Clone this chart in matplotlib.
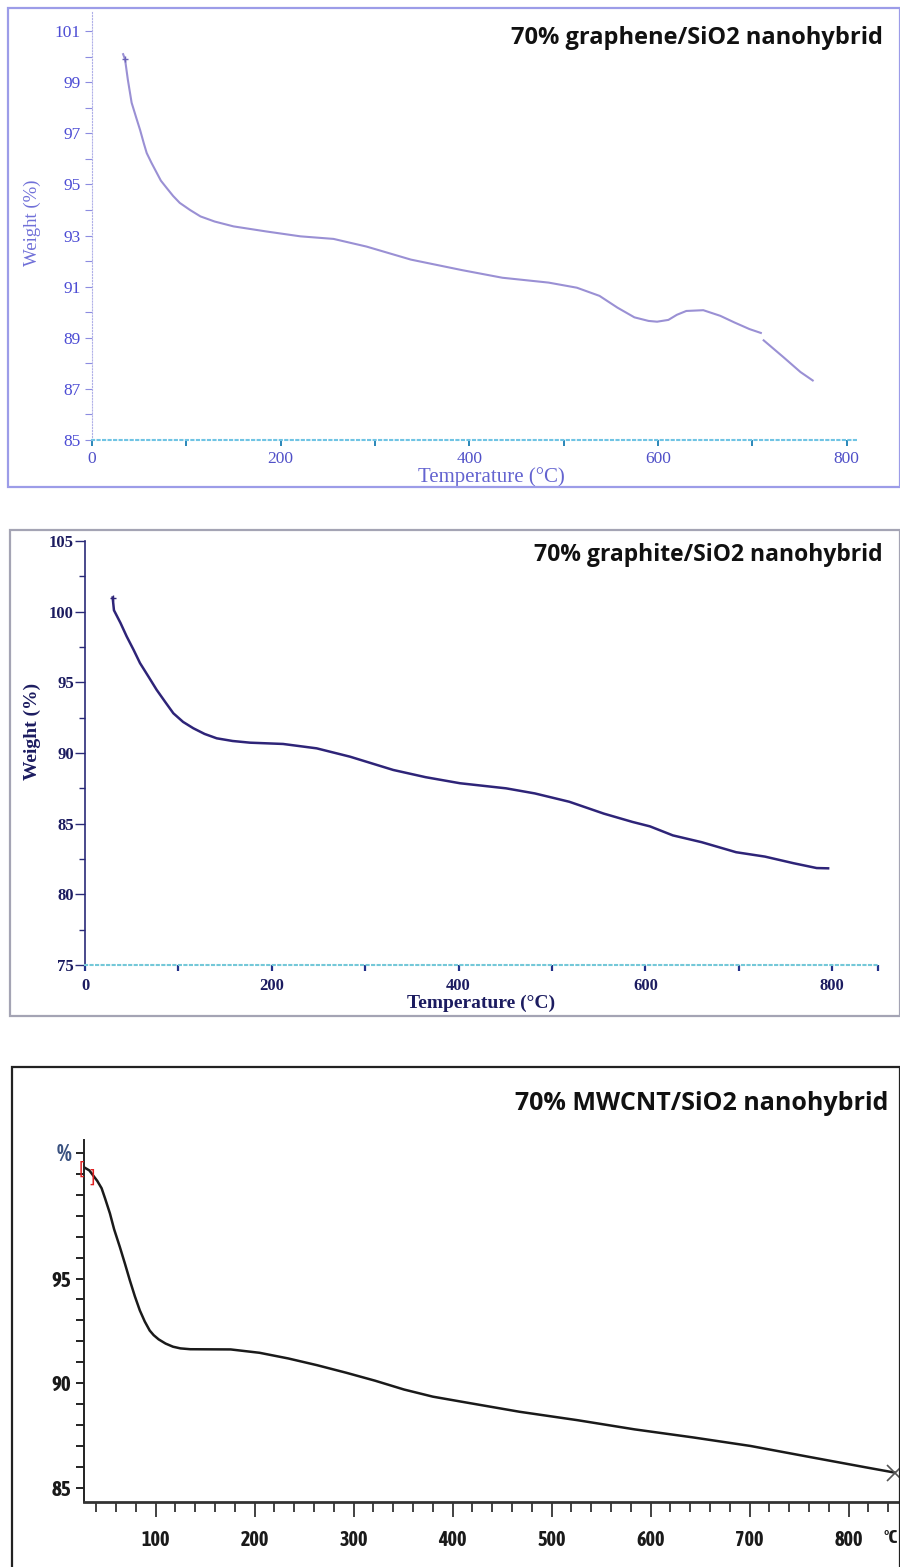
import numpy as np
import matplotlib
matplotlib.use('Agg')
import matplotlib.pyplot as plt
from matplotlib import font_manager
from matplotlib.patches import Rectangle
from matplotlib.ticker import MultipleLocator, FixedLocator

# panel 1 - graphene (curve has a small break near 710 C)
temp_gr_a = [33, 35, 38, 42, 47, 51, 55, 58, 63, 67, 73, 79, 86, 93, 104, 115, 130, 150,
             185, 221, 256, 291, 338, 392, 435, 484, 514, 538, 557, 575, 590, 599, 611,
             620, 630, 648, 666, 681, 697, 709]
wt_gr_a   = [100.1, 99.9, 99.1, 98.2, 97.6, 97.13, 96.6, 96.23, 95.85, 95.57, 95.15, 94.87,
             94.55, 94.28, 94.0, 93.75, 93.55, 93.36, 93.16, 92.97, 92.87, 92.57, 92.06,
             91.65, 91.35, 91.16, 90.96, 90.64, 90.18, 89.8, 89.66, 89.63, 89.7, 89.9,
             90.05, 90.08, 89.86, 89.6, 89.34, 89.19]
temp_gr_b = [712, 733, 751, 764]
wt_gr_b   = [88.9, 88.24, 87.66, 87.33]

# panel 2 - graphite
temp_gt = [29.6, 31, 38, 44.6, 52, 58.9, 68, 76.7, 86, 94.6, 105, 116, 128, 141, 158, 176.7,
           212, 248, 283.7, 330, 364.6, 401.5, 450.8, 481.6, 518.5, 555.5, 586.3, 604.8,
           629.4, 660.2, 697.1, 727.9, 758.7, 783.3, 795.6]
wt_gt   = [101.0, 100.1, 99.2, 98.25, 97.3, 96.36, 95.4, 94.47, 93.6, 92.81, 92.2, 91.75,
           91.35, 91.04, 90.85, 90.73, 90.64, 90.33, 89.74, 88.8, 88.29, 87.86, 87.5, 87.14,
           86.55, 85.71, 85.12, 84.81, 84.17, 83.69, 82.98, 82.67, 82.2, 81.86, 81.84]

# panel 3 - MWCNT
temp_cn = [27.6, 33, 37, 41, 45.4, 49, 53.8, 58, 63.9, 69, 74, 79, 84, 89, 94, 98, 103, 110,
           117.5, 125, 135, 175.8, 205, 234, 263, 292.5, 321.7, 350.9, 380, 409, 467.6, 526,
           584, 642.6, 701, 759, 817.6, 846.8]
wt_cn   = [100.3, 100.15, 99.9, 99.65, 99.3, 98.8, 98.1, 97.35, 96.49, 95.7, 94.9, 94.15,
           93.48, 92.95, 92.52, 92.3, 92.1, 91.9, 91.75, 91.67, 91.63, 91.62, 91.46, 91.19,
           90.87, 90.51, 90.13, 89.71, 89.37, 89.13, 88.65, 88.25, 87.81, 87.43, 87.02,
           86.51, 86.0, 85.75]

titles = ['70% graphene/SiO2 nanohybrid', '70% graphite/SiO2 nanohybrid',
          '70% MWCNT/SiO2 nanohybrid']

# look for a bold condensed sans for the third panel's tick labels
def is_bold(w):
    if isinstance(w, str):
        return w.lower() in ('bold', 'semibold', 'demibold', 'heavy', 'black', 'extra bold')
    return w >= 600

narrow_name = None
for f in font_manager.fontManager.ttflist:
    if 'Narrow' in f.name or 'Condensed' in f.name:
        if is_bold(f.weight):
            narrow_name = f.name
            break
        if narrow_name is None:
            narrow_name = f.name
narrow = [narrow_name, 'Roboto'] if narrow_name else ['Roboto', 'DejaVu Sans']

W, H = 900, 1567
fig = plt.figure(figsize=(W / 100, H / 100), dpi=100)
fig.patch.set_facecolor('white')

def fx(px):
    return px / W

def fy(py):
    return 1 - py / H

# frames round each panel
fig.add_artist(Rectangle((fx(8), fy(487)), fx(900 - 8), (487 - 8) / H,
                         transform=fig.transFigure, fill=False, ec='#9c9ce8', lw=1.6))
fig.add_artist(Rectangle((fx(10), fy(1016)), fx(900 - 10), (1016 - 530) / H,
                         transform=fig.transFigure, fill=False, ec='#a4a4b4', lw=1.6))
fig.add_artist(Rectangle((fx(12), fy(1580)), fx(900 - 12), (1580 - 1067) / H,
                         transform=fig.transFigure, fill=False, ec='#222222', lw=1.6))

serif = ['Liberation Serif', 'DejaVu Serif']
title_font = ['Open Sans', 'DejaVu Sans']

# ---------- panel 1
ax1 = fig.add_axes([fx(92), fy(440), fx(858 - 92), (440 - 12) / H])
ax1.plot(temp_gr_a, wt_gr_a, color='#9a90d4', lw=1.5)
ax1.plot(temp_gr_b, wt_gr_b, color='#9a90d4', lw=1.5)
ax1.plot(temp_gr_a[1], wt_gr_a[1], marker='+', color='#6c64b8', ms=5)
ax1.set_xlim(0, 812)
ax1.set_ylim(85, 101.75)
ax1.set_yticks(np.arange(85, 102, 2))
ax1.yaxis.set_minor_locator(FixedLocator(np.arange(86, 101, 2)))
ax1.set_xticks([0, 200, 400, 600, 800])
ax1.xaxis.set_minor_locator(FixedLocator([100, 300, 500, 700]))
for s in ['top', 'right']:
    ax1.spines[s].set_visible(False)
ax1.spines['left'].set_color('#b0b0e8')
ax1.spines['left'].set_linestyle(':')
ax1.spines['bottom'].set_color('#70c4e4')
ax1.spines['bottom'].set_linestyle(':')
ax1.spines['bottom'].set_linewidth(1.5)
ax1.tick_params(axis='y', which='both', length=5, color='#8c8ce0', width=0.8, pad=3,
                labelcolor='#4c4cd4', labelsize=12.5)
ax1.tick_params(axis='x', which='both', length=4, color='#2a86b8', width=1.4, pad=4,
                labelcolor='#5050c8', labelsize=12.5)
for lab in ax1.get_xticklabels() + ax1.get_yticklabels():
    lab.set_family(serif)
ax1.set_xlabel('Temperature (°C)', family=serif, fontsize=15, color='#6464d0')
ax1.xaxis.set_label_coords(0.521, -0.064)
ax1.set_ylabel('Weight (%)', family=serif, fontsize=13.5, color='#7070d8')
ax1.yaxis.set_label_coords(-0.066, 0.507)
fig.text(fx(883), fy(38), titles[0], family=title_font, weight='bold', fontsize=17,
         ha='right', va='center', color='#111111')

# ---------- panel 2
ax2 = fig.add_axes([fx(85), fy(965), fx(878 - 85), (965 - 541) / H])
ax2.plot(temp_gt, wt_gt, color='#2e2478', lw=1.8)
ax2.plot(temp_gt[0], wt_gt[0], marker='+', color='#2e2478', ms=4)
ax2.set_xlim(0, 849)
ax2.set_ylim(75, 105)
ax2.set_yticks(np.arange(75, 106, 5))
ax2.yaxis.set_minor_locator(FixedLocator(np.arange(77.5, 105, 5)))
ax2.set_xticks([0, 200, 400, 600, 800])
ax2.xaxis.set_minor_locator(FixedLocator([100, 300, 500, 700, 849]))
for s in ['top', 'right']:
    ax2.spines[s].set_visible(False)
ax2.spines['left'].set_color('#2a2a78')
ax2.spines['left'].set_linestyle((0, (3, 1)))
ax2.spines['left'].set_linewidth(1.2)
ax2.spines['bottom'].set_color('#74c8d8')
ax2.spines['bottom'].set_linestyle(':')
ax2.spines['bottom'].set_linewidth(1.5)
ax2.tick_params(axis='y', which='major', length=7, color='#2a2a78', width=1.0, pad=1,
                labelcolor='#1c1c60', labelsize=12)
ax2.tick_params(axis='y', which='minor', length=4, color='#2a2a78', width=1.0)
ax2.tick_params(axis='x', which='both', length=4, color='#22308a', width=1.6, pad=5,
                labelcolor='#1c1c60', labelsize=12)
for lab in ax2.get_xticklabels() + ax2.get_yticklabels():
    lab.set_family(serif)
    lab.set_weight('bold')
ax2.set_xlabel('Temperature (°C)', family=serif, fontsize=14, weight='bold',
               color='#1c1c60', labelpad=1)
ax2.set_ylabel('Weight (%)', family=serif, fontsize=14, weight='bold', color='#1c1c60')
ax2.yaxis.set_label_coords(-0.055, 0.55)
fig.text(fx(883), fy(555), titles[1], family=title_font, weight='bold', fontsize=16.5,
         ha='right', va='center', color='#111111')

# ---------- panel 3
ax3 = fig.add_axes([fx(84), fy(1502), fx(899 - 84), (1502 - 1140) / H])
ax3.plot(temp_cn, wt_cn, color='#1a1a1a', lw=1.8)
ax3.plot(temp_cn[-1], wt_cn[-1], marker='x', color='#555555', ms=12, mew=1.2, clip_on=False)
ax3.text(25.6, 100.2, '[', color='#e02020', fontsize=12, ha='center', va='center',
         clip_on=False)
ax3.text(35.6, 99.8, ']', color='#e02020', fontsize=12, ha='center', va='center',
         clip_on=False)
ax3.set_xlim(27.6, 851)
ax3.set_ylim(84.35, 101.6)
ax3.set_yticks([85, 90, 95])
ax3.yaxis.set_minor_locator(MultipleLocator(1))
ax3.set_xticks(np.arange(100, 801, 100))
ax3.xaxis.set_minor_locator(MultipleLocator(20))
for s in ['top', 'right']:
    ax3.spines[s].set_visible(False)
ax3.spines['left'].set_color('#222222')
ax3.spines['left'].set_linewidth(1.4)
ax3.spines['bottom'].set_color('#333333')
ax3.spines['bottom'].set_linewidth(2.0)
ax3.tick_params(axis='y', which='both', length=6, width=1.4, color='#222222', pad=3,
                labelsize=15, labelcolor='#1a1a1a')
ax3.tick_params(axis='x', which='major', length=11, width=1.2, color='#222222', pad=9,
                labelsize=14.5, labelcolor='#1a1a1a')
ax3.tick_params(axis='x', which='minor', length=7, width=1.2, color='#222222')
for lab in ax3.get_xticklabels() + ax3.get_yticklabels():
    lab.set_family(narrow)
    lab.set_weight('bold')
ax3.text(850, -0.10, '°C', transform=ax3.get_xaxis_transform(), family=narrow,
         weight='bold', fontsize=14, ha='right', va='center', color='#1a1a1a')
ax3.text(-0.025, 100.9, '%', transform=ax3.get_yaxis_transform(), family=narrow,
         weight='bold', fontsize=17, ha='center', va='center', color='#3a5280')
fig.text(fx(888), fy(1103), titles[2], family=title_font, weight='bold', fontsize=18,
         ha='right', va='center', color='#111111')

plt.savefig('out.png', dpi=100)
plt.close()
